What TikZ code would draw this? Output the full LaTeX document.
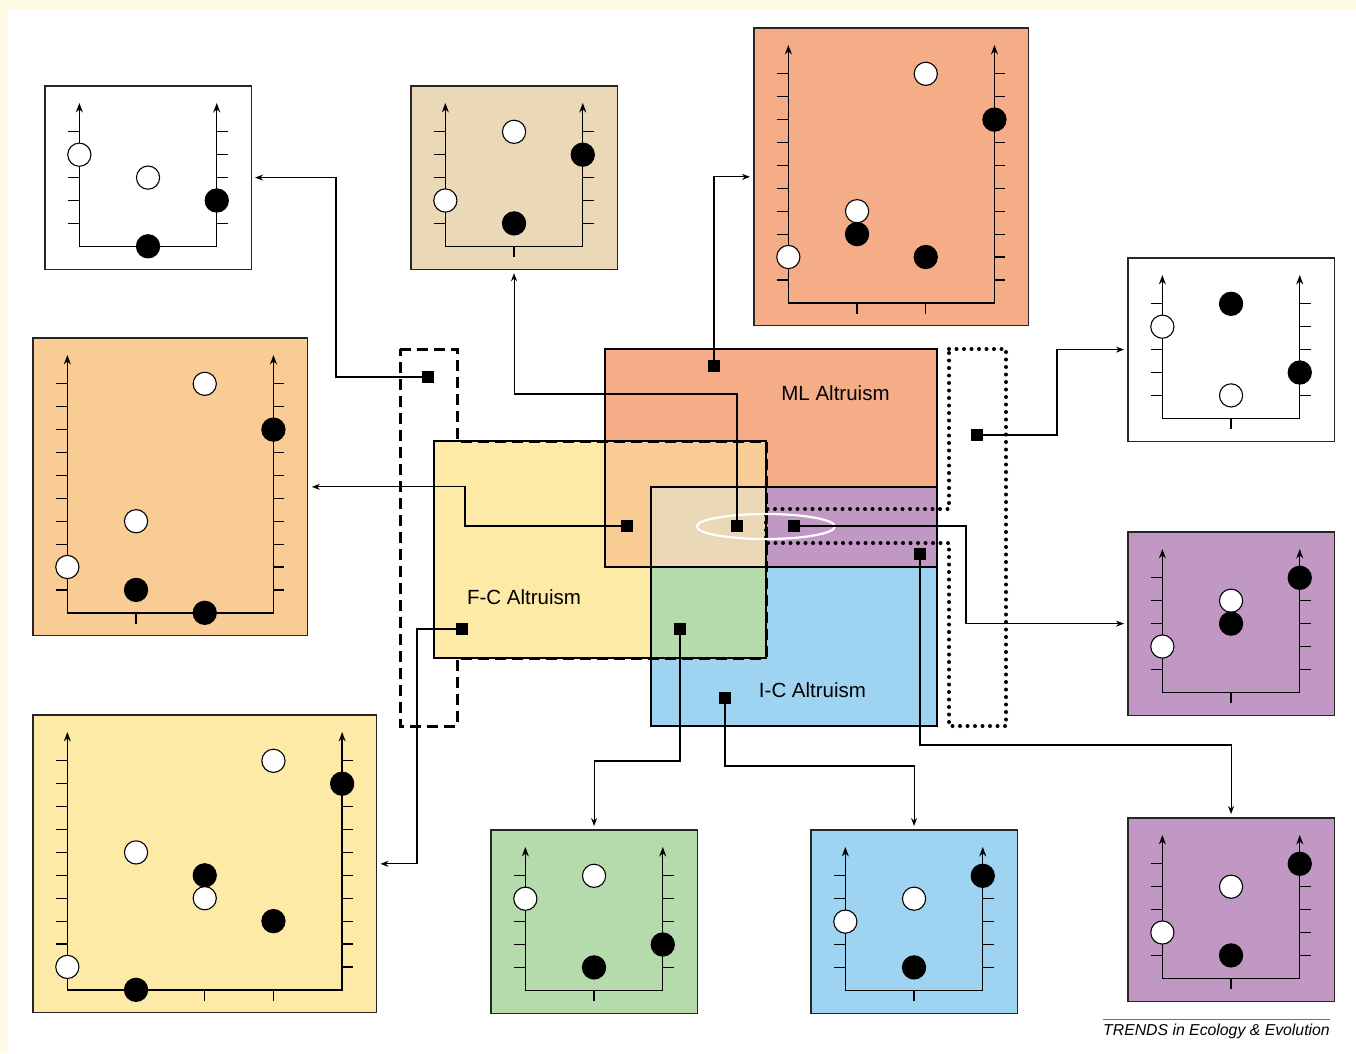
\documentclass[tikz,border=0pt]{standalone}
\usepackage{xcolor}
\usepackage{fontspec}
\setmainfont{Liberation Sans}
\usepackage{tikz}
\usetikzlibrary{
    calc,
    arrows.meta,
    positioning
}
\definecolor{pagecream}{RGB}{254,251,228}
\definecolor{mlsalmon}{RGB}{245,173,136}
\definecolor{fcyellow}{RGB}{253,234,166}
\definecolor{icblue}{RGB}{158,212,242}
\definecolor{fcmlorange}{RGB}{248,204,148}
\definecolor{fcicgreen}{RGB}{181,218,171}
\definecolor{mlicpurple}{RGB}{193,152,196}
\definecolor{alltan}{RGB}{234,216,183}
\def\gu{22.9}
\tikzset{
    panelbox/.style={draw=black!85, line width=1.1pt, inner sep=0pt, outer sep=0pt},
    sqmark/.style={fill=black, minimum size=12pt, inner sep=0pt},
    link/.style={line width=1.1pt, -{Stealth[length=8pt,width=6pt]}, shorten >=4pt},
    axisline/.style={line width=1.4pt, {Stealth[length=9.5pt,width=7pt]}-{Stealth[length=9.5pt,width=7pt]}},
    tickline/.style={line width=1.2pt},
    venn/.style={line width=1.2pt},
    fcdash/.style={line width=3pt, dash pattern=on 11pt off 6pt},
    icdots/.style={line width=4pt, dash pattern=on 0pt off 7.5pt, line cap=round},
    setname/.style={font=\fontsize{20.5}{24}\selectfont, anchor=base}
}
% name, left, top, width, height (grid units), fill, dots
\newcommand{\drawpanel}[7]{%
    \node[panelbox, fill=#6, minimum width=#4*\gu pt, minimum height=#5*\gu pt]
        (#1) at ({#2+#4*\gu/2},{#3+#5*\gu/2}) {};
    \begin{scope}[shift={({#2+1.5*\gu},{#3+(#5-1)*\gu})}, x=\gu pt, y=\gu pt]
        \pgfmathtruncatemacro\ntop{#5-3}
        \pgfmathtruncatemacro\nbot{(#4-3)/3-1}
        \foreach \t in {1,...,\ntop} {
            \draw[tickline] (0,\t) -- (-0.48,\t);
            \draw[tickline] ({#4-3},\t) -- ({#4-3+0.48},\t);
        }
        \foreach \s in {1,...,\nbot}
            \draw[tickline] ({3*\s},0) -- ({3*\s},-0.48);
        \draw[axisline] (0,{#5-1.74}) -- (0,0) -- ({#4-3},0) -- ({#4-3},{#5-1.74});
        \foreach \k/\a/\b in {#7}
            \filldraw[fill=\k, line width=1.1pt] (\a,\b) circle[radius=11.6pt];
    \end{scope}
}

\begin{document}
\begin{tikzpicture}[x=1pt, y=-1pt]
    \useasboundingbox (0,0) rectangle (1356,1053);
    \fill[pagecream] (0,0) rectangle (1356,1053);
    \fill[white] (8,10) rectangle (1356,1053);

    \fill[fcyellow] (434,441) rectangle (766,658);
    \fill[mlsalmon] (605,349) rectangle (937,567);
    \fill[icblue] (651,487) rectangle (937,726);
    \fill[fcmlorange] (605,441) rectangle (766,567);
    \fill[fcicgreen] (651,567) rectangle (766,658);
    \fill[mlicpurple] (766,487) rectangle (937,567);
    \fill[alltan] (651,487) rectangle (766,567);
    \draw[venn] (434,441) rectangle (766,658)
                (605,349) rectangle (937,567)
                (651,487) rectangle (937,726);
    \draw[fcdash] (400,349) -- (457,349) -- (457,441) -- (766,441) -- (766,658)
                  -- (457,658) -- (457,726) -- (400,726) -- cycle;
    \draw[icdots] (949,349) -- (1006,349) -- (1006,726) -- (949,726) -- (949,543)
                  -- (766,543) -- (766,509) -- (949,509) -- cycle;
    \draw[white, line width=2.2pt] (765.8,526.5) ellipse [x radius=69, y radius=12.5];

    \node[setname] (mlname) at (835.5,400) {ML Altruism};
    \node[setname] (fcname) at (524,604) {F-C Altruism};
    \node[setname] (icname) at (812.5,697.5) {I-C Altruism};

    \drawpanel{pA}{45}{86}{9}{8}{white}{white/0/4, white/3/3, black/6/2, black/3/0}
    \drawpanel{pB}{411}{86}{9}{8}{alltan}{white/3/5, black/6/4, white/0/2, black/3/1}
    \drawpanel{pC}{754}{28}{12}{13}{mlsalmon}{white/6/10, black/9/8, white/3/4, black/3/3, white/0/2, black/6/2}
    \drawpanel{pD}{1128}{258}{9}{8}{white}{black/3/5, white/0/4, black/6/2, white/3/1}
    \drawpanel{pE}{1128}{532}{9}{8}{mlicpurple}{black/6/5, white/3/4, black/3/3, white/0/2}
    \drawpanel{pF}{1128}{818}{9}{8}{mlicpurple}{black/6/5, white/3/4, white/0/2, black/3/1}
    \drawpanel{pG}{491}{830}{9}{8}{fcicgreen}{white/3/5, white/0/4, black/6/2, black/3/1}
    \drawpanel{pH}{811}{830}{9}{8}{icblue}{black/6/5, white/3/4, white/0/3, black/3/1}
    \drawpanel{pI}{33}{338}{12}{13}{fcmlorange}{white/6/10, black/9/8, white/3/4, white/0/2, black/3/1, black/6/0}
    \drawpanel{pJ}{33}{715}{15}{13}{fcyellow}{white/9/10, black/12/9, white/3/6, black/6/5, white/6/4, black/9/3, white/0/1, black/3/0}

    \node[sqmark] (sqML) at (714,366) {};
    \node[sqmark] (sqCol) at (428,377) {};
    \node[sqmark] (sqFCML) at (627,526) {};
    \node[sqmark] (sqAll) at (737,526) {};
    \node[sqmark] (sqMLIC) at (794,526) {};
    \node[sqmark] (sqPur) at (920,554) {};
    \node[sqmark] (sqDot) at (977,435) {};
    \node[sqmark] (sqFC) at (462,629) {};
    \node[sqmark] (sqFCIC) at (680,629) {};
    \node[sqmark] (sqIC) at (725,698) {};

    \draw[link] (sqCol) -- ++(-92,0) |- (pA.east);
    \draw[link] (sqAll) -- ++(0,-132) -| (pB.south);
    \draw[link] (sqML) |- (pC.west);
    \draw[link] (sqFCML) -- ++(-162,0) |- (pI.east);
    \draw[link] (sqDot) -- ++(80,0) |- (pD.west);
    \draw[link] (sqMLIC) -- ++(172,0) |- (pE.west);
    \draw[link] (sqPur) -- ++(0,191) -| (pF.north);
    \draw[link] (sqFC) -- ++(-45,0) |- (pJ.east);
    \draw[link] (sqFCIC) -- ++(0,132) -| (pG.north);
    \draw[link] (sqIC) -- ++(0,68) -| (pH.north);

    \node[anchor=base west, inner sep=0pt, font=\fontsize{15.8}{18}\selectfont\itshape]
        (credit) at (1103,1035) {TRENDS in Ecology \& Evolution};
    \draw[black!55, line width=1pt] ([yshift=4pt]credit.north west) -- ([yshift=4pt]credit.north east);
\end{tikzpicture}
\end{document}
